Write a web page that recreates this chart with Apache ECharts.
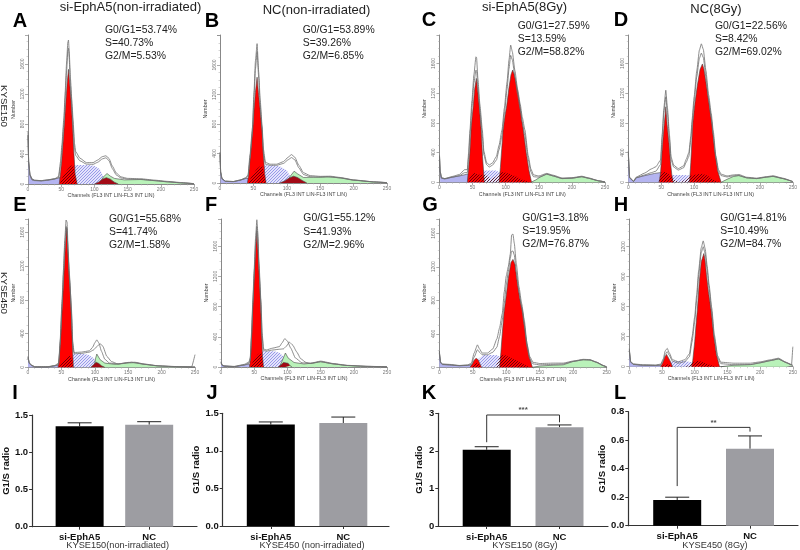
<!DOCTYPE html>
<html><head><meta charset="utf-8">
<style>html,body{margin:0;padding:0;background:#fff}#c{width:800px;height:550px}</style>
<script src="https://cdn.jsdelivr.net/npm/echarts@6/dist/echarts.min.js"></script></head>
<body><div id="c"></div>
<script>
// ---------- Histogram data: [channel, count] ----------
const aBlue=[[0,650],[1,300],[3,130],[6,70],[10,50],[20,45],[30,55],[40,70],[48,85],[52,0]];
const aHatch=[[48,0],[55,130],[62,210],[70,253],[80,255],[92,253],[100,240],[108,200],[114,90],[120,0]];
const aG1=[[47,0],[49,150],[51,330],[54.7,787],[57,1100],[59,1350],[61,1529],[63,1320],[65,1100],[67,787],[69,430],[71,130],[74,0]];
const aG2=[[100,0],[106,25],[112,65],[118,85],[124,65],[130,25],[136,0]];
const aOver=[[48,0],[52,90],[56,150],[60,200],[64,240],[68,253],[71,130],[74,0]];
const aGreen=[[108,0],[113,90],[119,140],[124,105],[130,75],[145,55],[170,60],[190,45],[210,28],[230,15],[250,4]];
const aLine1=[[0,700],[1,300],[3,120],[6,60],[10,50],[20,45],[30,55],[40,70],[46,100],[49,300],[51,520],[54,880],[56,1230],[58,1600],[60,1890],[61,1920],[62,1780],[64,1400],[66,1120],[68,840],[70,540],[72,430],[78,346],[88,285],[98,285],[105,320],[112,365],[117.5,377],[122,340],[127,240],[133,146],[140,95],[150,75],[170,70],[190,52],[210,35],[230,20],[250,5]];
const aLine2=[[0,650],[1,280],[3,110],[6,55],[10,45],[20,40],[30,50],[40,65],[46,85],[49,240],[51,450],[54,810],[56,1130],[58,1480],[60,1780],[61,1810],[62,1680],[64,1310],[66,1040],[68,770],[70,470],[72,380],[78,310],[88,265],[98,262],[105,290],[112,335],[117.5,350],[122,310],[127,205],[133,120],[140,80],[150,65],[170,62],[190,46],[210,30],[230,16],[250,4]];

const bBlue=[[0,400],[1,150],[3,60],[8,25],[20,20],[30,40],[38,60],[42,65],[45,0]];
const bHatch=[[40,0],[50,120],[58,220],[65,240],[80,240],[90,225],[100,170],[107,60],[112,0]];
const bG1=[[41,0],[43,120],[45,330],[49,717],[51,1000],[53,1230],[55.5,1435],[57.5,1230],[60,1000],[63,717],[65,380],[67,120],[69,0]];
const bG2=[[89,0],[96,25],[103,65],[110,93],[116,75],[123,35],[130,0]];
const bOver=[[42,0],[47,80],[51,140],[55,190],[59,220],[63,240],[66,120],[69,0]];
const bGreen=[[100,0],[105,90],[111,160],[116,125],[125,75],[140,78],[160,85],[180,70],[200,40],[230,15],[250,5]];
const bLine1=[[0,420],[1,150],[3,60],[8,25],[20,20],[30,40],[38,70],[42,110],[45,390],[48.5,750],[51,1250],[53,1650],[55.5,1890],[58,1500],[60,1150],[63,780],[65,460],[68,280],[75,255],[85,255],[95,290],[102,350],[107,385],[112,350],[118,240],[125,140],[135,100],[150,90],[165,92],[180,75],[200,42],[230,16],[250,5]];
const bLine2=[[0,380],[1,140],[3,55],[8,22],[20,18],[30,36],[38,62],[42,95],[45,340],[48.5,700],[51,1170],[53,1540],[55.5,1780],[58,1420],[60,1080],[63,720],[65,400],[68,255],[75,240],[85,240],[95,265],[102,315],[107,345],[112,315],[118,205],[125,115],[135,85],[150,78],[165,84],[180,68],[200,38],[230,14],[250,4]];

const cBlue=[[0,350],[1,150],[3,60],[8,50],[20,70],[30,85],[42,110],[50,100],[55,0]];
const cHatch=[[42,0],[50,60],[60,120],[66,160],[85,160],[92,130],[100,80],[110,40],[125,0]];
const cG1=[[42,0],[44,200],[46,430],[48,760],[51,1030],[53,1250],[55.6,1400],[57,1300],[60,1030],[63,705],[65,350],[67.7,0]];
const cG2=[[90,0],[92,200],[94,450],[96,705],[99,900],[101.5,1030],[105,1280],[108,1450],[110.5,1512],[113,1450],[117,1280],[121.6,1030],[124,860],[126.6,705],[131,400],[135,170],[139,0]];
const cOver=[[42,0],[48,100],[53,125],[58,110],[63,100],[68,110],[72,90],[77,40],[80,20],[84,70],[90,120],[96,140],[104,120],[115,80],[125,35],[137,0]];
const cGreen=[[138,0],[145,30],[152,70],[162,110],[172,85],[185,50],[200,55],[215,75],[225,55],[240,20],[250,5]];
const cLine1=[[0,370],[1,150],[3,60],[8,50],[20,80],[30,105],[38,170],[42,170],[44,400],[46,705],[49,1100],[52,1450],[55,1690],[56,1680],[58,1400],[61,1050],[64.7,705],[67,420],[71,270],[75,233],[80,260],[86,350],[90,500],[94.4,705],[98,1000],[102,1350],[105,1650],[107.5,1848],[110,1760],[114,1500],[118,1250],[122,1050],[125,880],[129,705],[134,360],[138,180],[142,100],[150,85],[162,120],[172,95],[185,58],[200,62],[215,82],[225,60],[240,22],[250,5]];
const cLine2=[[0,340],[1,140],[3,55],[8,45],[20,70],[30,90],[38,130],[42,130],[44,340],[46,630],[49,1010],[52,1340],[55,1512],[56,1500],[58,1290],[61,970],[64.7,630],[67,370],[71,240],[75,205],[80,230],[86,300],[90,440],[94.4,630],[98,920],[102,1250],[105,1530],[107.5,1710],[110,1650],[114,1420],[118,1180],[122,980],[125,810],[129,630],[134,310],[138,140],[142,75],[150,70],[162,110],[172,85],[185,50],[200,55],[215,75],[225,55],[240,20],[250,4]];

const dBlue=[[0,400],[2,60],[8,10],[12,60],[25,90],[40,120],[48,130],[55,125],[60,0]];
const dHatch=[[58,0],[66,100],[85,100],[95,90],[100,40],[105,0]];
const dG1=[[47,0],[49,130],[52,509],[54,720],[57,1017],[59,780],[62,509],[64,280],[66,110],[68,0]];
const dG2=[[93,0],[95,270],[98,797],[101,1050],[105,1310],[109,1520],[112.6,1594],[115,1520],[119,1290],[123,1040],[127,797],[131,450],[136,150],[141,0]];
const dOver=[[46,0],[50,130],[54,150],[60,120],[66,70],[72,20],[80,0],[85,30],[92,80],[100,100],[105,110],[112,115],[120,90],[130,30],[140,0]];
const dGreen=[[141,0],[150,40],[160,80],[168,90],[180,60],[195,50],[210,70],[220,80],[235,50],[250,10]];
const dLine1=[[0,420],[2,70],[8,15],[12,70],[25,125],[35,180],[42,210],[49,300],[51.5,650],[54,1000],[57,1240],[59.5,1000],[62.5,640],[65,340],[69,230],[76,185],[84,220],[88,310],[92,400],[95,620],[97,850],[100,1150],[104,1500],[108,1780],[111,1865],[114,1790],[118,1500],[122,1180],[126,930],[129,700],[133,360],[137,170],[141,110],[150,85],[160,100],[168,105],[180,68],[195,56],[210,76],[220,88],[235,55],[250,10]];
const dLine2=[[0,380],[2,60],[8,12],[12,62],[25,100],[35,130],[42,150],[49,240],[51.5,590],[54,930],[57,1150],[59.5,930],[62.5,580],[65,300],[69,205],[76,165],[84,195],[88,270],[92,350],[95,570],[97,790],[100,1080],[104,1420],[108,1670],[111,1740],[114,1680],[118,1420],[122,1120],[126,870],[129,640],[133,320],[137,140],[141,90],[150,72],[160,88],[168,92],[180,60],[195,50],[210,70],[220,80],[235,50],[250,8]];

const eBlue=[[0,120],[2,50],[5,25],[10,5],[30,5],[40,18],[46,30],[50,0]];
const eHatch=[[46,0],[54,60],[60,130],[68,162],[80,162],[90,150],[98,110],[104,60],[108,0]];
const eG1=[[45,0],[47,150],[49,380],[52,827],[54,1150],[56,1450],[58,1654],[59.5,1450],[61,1200],[64,827],[65.5,500],[67,160],[68,0]];
const eG2=[[94,0],[98,30],[102,60],[106,45],[110,18],[115,0]];
const eOver=[[46,0],[50,40],[54,80],[58,120],[62,150],[66,100],[68,0]];
const eGreen=[[99,0],[101,100],[103,157],[108,90],[115,50],[130,35],[145,50],[155,60],[170,40],[190,20],[210,10],[250,5]];
const eLine1=[[0,130],[2,55],[5,28],[10,8],[30,8],[40,22],[46,50],[48,300],[51,800],[53,1150],[55,1500],[57,1745],[58.5,1720],[60,1400],[62,1100],[65,700],[67,300],[69,175],[80,180],[92,195],[97,240],[100,290],[103,325],[106,290],[110,190],[115,95],[122,50],[135,40],[150,58],[160,60],[175,38],[195,18],[225,8],[245,6],[250,150]];
const eLine2=[[0,110],[2,45],[5,22],[10,5],[30,5],[40,18],[46,35],[48,260],[51,750],[53,1090],[55,1430],[57,1670],[58.5,1640],[60,1340],[62,1040],[65,650],[67,270],[69,160],[80,165],[92,180],[98,205],[103,245],[108,280],[112,250],[118,130],[125,68],[135,38],[150,52],[160,55],[175,35],[195,16],[225,6],[245,4],[250,5]];

const fBlue=[[0,60],[2,20],[5,10],[20,5],[35,25],[42,40],[45,0]];
const fHatch=[[43,0],[50,90],[56,170],[62,208],[80,208],[88,190],[94,140],[99,60],[103,0]];
const fG1=[[43,0],[45,200],[48.5,900],[50,1200],[52,1550],[54,1800],[55.5,1580],[57,1300],[59.5,900],[61,480],[62.5,140],[64,0]];
const fG2=[[86,0],[90,25],[94,60],[97,75],[101,50],[104,18],[107,0]];
const fOver=[[44,0],[48,70],[52,130],[56,170],[60,200],[62,150],[64,0]];
const fGreen=[[88,0],[92,80],[97,185],[101,120],[110,60],[125,40],[140,55],[150,70],[170,40],[190,20],[220,8],[250,3]];
const fLine1=[[0,70],[2,25],[5,12],[20,8],[35,35],[42,65],[44,120],[46,450],[48,900],[50,1300],[52,1700],[54,1950],[55.5,1780],[57,1420],[60,900],[62,450],[64,240],[68,225],[78,250],[88,270],[92,320],[96,375],[100,345],[105,250],[112,120],[122,55],[135,50],[150,78],[170,45],[190,22],[220,9],[250,3]];
const fLine2=[[0,55],[2,18],[5,8],[20,5],[35,28],[42,50],[44,90],[46,400],[48,850],[50,1230],[52,1620],[54,1860],[55.5,1700],[57,1350],[60,850],[62,400],[64,220],[68,210],[78,225],[88,235],[94,240],[99,280],[103,330],[108,290],[114,200],[120,110],[128,60],[135,46],[150,70],[170,40],[190,20],[220,8],[250,3]];

const gBlue=[[0,190],[2,60],[5,35],[15,30],[30,20],[42,25],[48,30],[52,0]];
const gHatch=[[46,0],[52,50],[60,110],[66,148],[85,148],[92,120],[100,70],[110,20],[118,0]];
const gG1=[[46,0],[49,35],[52,85],[55,108],[58,90],[60,55],[63,0]];
const gG2=[[90,0],[92,180],[94,400],[96.5,644],[100,860],[103,1060],[107,1250],[110,1288],[113,1230],[116,1040],[120,830],[125,644],[129,380],[134,140],[139,0]];
const gOver=[[46,0],[50,30],[55,55],[60,30],[63,0],[84,0],[88,90],[92,140],[97,150],[105,120],[115,80],[125,40],[135,0]];
const gGreen=[[139,0],[150,15],[170,25],[185,30],[200,70],[215,90],[225,88],[235,60],[245,20],[250,5]];
const gLine1=[[0,190],[2,60],[5,40],[15,35],[30,22],[42,28],[48,50],[52,170],[57,268],[60,220],[64,170],[72,170],[80,220],[86,340],[90,470],[94,640],[97,900],[100,1090],[103,1200],[106,1350],[108,1580],[110,1590],[112,1480],[115,1240],[119,960],[123,760],[127,560],[131,280],[135,130],[140,60],[150,45],[170,50],[185,50],[200,75],[215,95],[225,92],[235,62],[245,22],[250,5]];
const gLine2=[[0,170],[2,50],[5,32],[15,28],[30,18],[42,22],[48,35],[52,120],[57,210],[60,180],[64,150],[72,150],[80,180],[86,240],[90,370],[94,560],[97,760],[100,980],[103,1140],[106,1300],[108,1385],[110,1388],[112,1340],[115,1140],[119,900],[123,710],[127,500],[131,240],[135,100],[140,40],[150,30],[170,35],[185,40],[200,70],[215,90],[225,86],[235,58],[245,18],[250,4]];

const hBlue=[[0,170],[2,50],[6,25],[20,15],[40,12],[48,15],[52,0]];
const hHatch=[[50,0],[58,25],[65,57],[85,57],[95,45],[105,15],[112,0]];
const hG1=[[48,0],[51,40],[54,95],[57,123],[60,105],[63,50],[66,0]];
const hG2=[[95,0],[97,60],[100,250],[102,420],[104,566],[107,850],[110,1050],[114,1132],[116,1060],[118,920],[121,750],[125,566],[129,320],[133,130],[138,0]];
const hOver=[[48,0],[54,20],[60,25],[66,0],[86,0],[95,35],[100,50],[105,60],[115,40],[125,15],[135,0]];
const hGreen=[[140,0],[160,15],[185,20],[200,38],[215,60],[228,77],[240,40],[250,15]];
const hLine1=[[0,180],[2,55],[6,28],[20,20],[40,18],[48,25],[52,80],[55,160],[58,183],[61,140],[66,70],[75,50],[85,70],[92,130],[96,300],[100,500],[103,720],[106,960],[110,1190],[113,1258],[116,1180],[119,1010],[122,820],[126,590],[130,320],[135,110],[140,45],[160,35],[185,35],[200,48],[215,68],[228,85],[240,44],[248,20],[250,200]];
const hLine2=[[0,160],[2,45],[6,22],[20,14],[40,12],[48,18],[52,60],[55,125],[58,150],[61,115],[66,55],[75,35],[85,50],[92,100],[96,250],[100,450],[103,670],[106,910],[110,1140],[113,1200],[116,1130],[119,970],[122,780],[126,550],[130,285],[135,90],[140,30],[160,20],[185,22],[200,40],[215,60],[228,78],[240,40],[248,15],[250,12]];

// ---------- Bar data ----------
const barCats=['si-EphA5','NC'];
const barColors=['#000000','#9d9da2'];
const iVals=[1.35,1.37], iTops=[1.395,1.41];
const jVals=[1.35,1.37], jTops=[1.385,1.45];
const kVals=[2.03,2.63], kTops=[2.11,2.69];
const lVals=[0.18,0.54], lTops=[0.20,0.63];
const kBracket=[[1,2.23],[1,2.955],[2,2.955],[2,2.76]];
const lBracket=[[1,0.278],[1,0.69],[2,0.69],[2,0.66]];

// ---------- Texts ----------
const chanName='Channels (FL3 INT LIN-FL3 INT LIN)';
const titles=['si-EphA5(non-irradiated)','NC(non-irradiated)','si-EphA5(8Gy)','NC(8Gy)'];
const letters=['A','B','C','D','E','F','G','H','I','J','K','L'];
const stats=[['G0/G1=53.74%','S=40.73%','G2/M=5.53%'],['G0/G1=53.89%','S=39.26%','G2/M=6.85%'],['G0/G1=27.59%','S=13.59%','G2/M=58.82%'],['G0/G1=22.56%','S=8.42%','G2/M=69.02%'],
 ['G0/G1=55.68%','S=41.74%','G2/M=1.58%'],['G0/G1=55.12%','S=41.93%','G2/M=2.96%'],['G0/G1=3.18%','S=19.95%','G2/M=76.87%'],['G0/G1=4.81%','S=10.49%','G2/M=84.7%']];
const barCaptions=['KYSE150(non-irradiated)','KYSE450 (non-irradiated)','KYSE150 (8Gy)','KYSE450 (8Gy)'];

// ---------- Layout ----------
const histLayout=[
 {l:28,w:166,t:35,h:149,max:1987,iv:400,top:1600},{l:220,w:167,t:35,h:148,max:2007,iv:400,top:1600},
 {l:439.5,w:165.5,t:35,h:147.3,max:1984,iv:400,top:1600},{l:628.3,w:164.7,t:35,h:147.3,max:1984,iv:400,top:1600},
 {l:28,w:167,t:219,h:148.3,max:1757,iv:400,top:1600},{l:221,w:166,t:219,h:148,max:1960,iv:400,top:1600},
 {l:439.3,w:167.4,t:219,h:148.3,max:1770,iv:400,top:1600},{l:629.3,w:167.4,t:219,h:147.7,max:1477,iv:300,top:1200}];
const barLayout=[
 {l:28,r:197,t:415,b:526.7,c1:76.7,c2:148,max:1.5,iv:0.5,dec:1,gap:18},
 {l:222.7,r:389,t:413.3,b:526,c1:270.8,c2:343.3,max:1.5,iv:0.5,dec:1,gap:15},
 {l:438.3,r:608,t:413.3,b:526,c1:486.7,c2:559.5,max:3,iv:1,dec:0,gap:14},
 {l:628.3,r:798,t:411.7,b:525.7,c1:677.2,c2:750,max:0.8,iv:0.2,dec:1,gap:19}];
const titlePos=[[130.5,7],[316.5,10],[524.5,7],[716,9]];
const letterPos=[[20,21],[212,21],[429,20],[621,20],[20,205],[211,205],[430,205],[621,205],[15,393],[212,393],[429,393],[620,393]];
const statPos=[[105,30],[302.7,30],[517.7,26],[715,26],[109,219],[303.3,218.5],[522.3,217.7],[720.3,217.7]];
const captionPos=[[117.7,545],[312,545],[525,545],[715,545]];

// ---------- Patterns ----------
function hatch(bg,fg,size){
  const c=document.createElement('canvas');c.width=c.height=size;const x=c.getContext('2d');
  if(bg){x.fillStyle=bg;x.fillRect(0,0,size,size);}
  x.strokeStyle=fg;x.lineWidth=0.8;
  x.beginPath();x.moveTo(-1,1);x.lineTo(1,-1);x.moveTo(0,size);x.lineTo(size,0);x.moveTo(size-1,size+1);x.lineTo(size+1,size-1);x.stroke();
  return {image:c,repeat:'repeat'};
}
const blueHatch=hatch('#e4e4fb','#8484e4',3);
const darkHatch=hatch(null,'#4a0008',3);

const panels=[
 {blue:aBlue,s:aHatch,g1:aG1,g2:aG2,over:aOver,green:aGreen,l1:aLine1,l2:aLine2,g2c:'#a30a16'},
 {blue:bBlue,s:bHatch,g1:bG1,g2:bG2,over:bOver,green:bGreen,l1:bLine1,l2:bLine2,g2c:'#a30a16'},
 {blue:cBlue,s:cHatch,g1:cG1,g2:cG2,over:cOver,green:cGreen,l1:cLine1,l2:cLine2,g2c:'#ff0000'},
 {blue:dBlue,s:dHatch,g1:dG1,g2:dG2,over:dOver,green:dGreen,l1:dLine1,l2:dLine2,g2c:'#ff0000'},
 {blue:eBlue,s:eHatch,g1:eG1,g2:eG2,over:eOver,green:eGreen,l1:eLine1,l2:eLine2,g2c:'#a30a16'},
 {blue:fBlue,s:fHatch,g1:fG1,g2:fG2,over:fOver,green:fGreen,l1:fLine1,l2:fLine2,g2c:'#a30a16'},
 {blue:gBlue,s:gHatch,g1:gG1,g2:gG2,over:gOver,green:gGreen,l1:gLine1,l2:gLine2,g2c:'#ff0000'},
 {blue:hBlue,s:hHatch,g1:hG1,g2:hG2,over:hOver,green:hGreen,l1:hLine1,l2:hLine2,g2c:'#ff0000'}];
const barPanels=[
 {v:iVals,e:iTops,yName:'G1/S radio'},{v:jVals,e:jTops,yName:'G1/S radio'},
 {v:kVals,e:kTops,br:kBracket,stars:'***',sy:3.08,yName:'G1/S radio'},
 {v:lVals,e:lTops,br:lBracket,stars:'**',sy:0.72,yName:'G1/S radio'}];

const grid=[],xAxis=[],yAxis=[],series=[];
function area(i,data,color,z,line){
  return {type:'line',xAxisIndex:i,yAxisIndex:i,data,showSymbol:false,silent:true,clip:false,z,
    lineStyle:{width:line?0.6:0,color:'#444'},areaStyle:{color,opacity:1},animation:false};
}
function trace(i,data,z){
  return {type:'line',xAxisIndex:i,yAxisIndex:i,data,showSymbol:false,silent:true,clip:false,z,smooth:0.15,smoothMonotone:'x',
    lineStyle:{width:0.8,color:'#707070'},animation:false};
}
panels.forEach((p,i)=>{
  const L=histLayout[i];
  grid.push({left:L.l,top:L.t,width:L.w,height:L.h,containLabel:false});
  xAxis.push({type:'value',gridIndex:i,min:0,max:250,interval:50,splitLine:{show:false},
    name:chanName,nameLocation:'middle',nameGap:9.5,nameTextStyle:{fontSize:5.3,color:'#444',fontFamily:'Liberation Sans'},
    axisLine:{lineStyle:{color:'#888',width:1}},axisTick:{length:3,lineStyle:{color:'#888',width:0.7}},
    minorTick:{show:true,splitNumber:5,length:1.5,lineStyle:{color:'#aaa',width:0.5}},
    axisLabel:{fontSize:5,color:'#777',margin:3,fontFamily:'Liberation Sans'}});
  yAxis.push({type:'value',gridIndex:i,min:0,max:L.max,interval:L.iv,splitLine:{show:false},
    name:'Number',nameLocation:'middle',nameGap:12,nameRotate:90,nameTextStyle:{fontSize:5.3,color:'#444',fontFamily:'Liberation Sans'},
    axisLine:{show:true,lineStyle:{color:'#888',width:1}},axisTick:{show:true,length:3,lineStyle:{color:'#888',width:0.7}},
    minorTick:{show:true,splitNumber:4,length:1.5,lineStyle:{color:'#aaa',width:0.5}},
    axisLabel:{fontSize:5,color:'#777',rotate:90,margin:3,showMaxLabel:false,fontFamily:'Liberation Sans',formatter:v=>v<=L.top?String(v):''}});
  series.push(area(i,p.blue,'#b4b4f0',2,true));
  series.push(area(i,p.s,blueHatch,3,false));
  series.push(area(i,p.green,'#b9f2b9',4,true));
  series.push(area(i,p.g2,p.g2c,5,true));
  series.push(area(i,p.g1,'#ff0000',5,true));
  series.push(area(i,p.over,darkHatch,6,false));
  series.push(trace(i,p.l1,7));
  series.push(trace(i,p.l2,7));
});
barPanels.forEach((p,k)=>{
  const i=k+8,L=barLayout[k],sp=L.c2-L.c1;
  grid.push({left:L.l,top:L.t,width:L.r-L.l,height:L.b-L.t});
  xAxis.push({type:'value',gridIndex:i,min:1-(L.c1-L.l)/sp,max:2+(L.r-L.c2)/sp,splitLine:{show:false},
    axisLine:{lineStyle:{color:'#333',width:1.2}},
    axisTick:{show:true,length:3,customValues:[1,2],lineStyle:{color:'#333',width:1}},
    axisLabel:{customValues:[1,2],formatter:v=>barCats[Math.round(v)-1],fontSize:9.5,fontWeight:'bold',color:'#111',margin:6,fontFamily:'Liberation Sans'}});
  yAxis.push({type:'value',gridIndex:i,min:0,max:L.max,interval:L.iv,splitLine:{show:false},
    name:p.yName,nameLocation:'middle',nameGap:L.gap,nameRotate:90,
    nameTextStyle:{fontSize:9.6,fontWeight:'bold',color:'#111',fontFamily:'Liberation Sans'},
    axisLine:{show:true,lineStyle:{color:'#333',width:1.2}},axisTick:{show:true,length:3,lineStyle:{color:'#333',width:1}},
    axisLabel:{fontSize:9.5,fontWeight:'bold',color:'#111',margin:4,fontFamily:'Liberation Sans',formatter:v=>v.toFixed(L.dec)}});
  series.push({type:'bar',xAxisIndex:i,yAxisIndex:i,barWidth:48,silent:true,animation:false,
    data:p.v.map((v,j)=>({value:[j+1,v],itemStyle:{color:barColors[j]}}))});
  series.push({type:'custom',xAxisIndex:i,yAxisIndex:i,silent:true,animation:false,z:1,
    data:p.v.map((v,j)=>[j+1,v,p.e[j]]),encode:{x:0,y:[1,2]},
    renderItem:(params,api)=>{
      const a=api.coord([api.value(0),api.value(1)]),b=api.coord([api.value(0),api.value(2)]);
      const st={stroke:'#222',lineWidth:1};
      return {type:'group',children:[
        {type:'line',shape:{x1:a[0],y1:a[1],x2:b[0],y2:b[1]},style:st},
        {type:'line',shape:{x1:b[0]-12,y1:b[1],x2:b[0]+12,y2:b[1]},style:st}]};
    }});
  if(p.br){
    series.push({type:'line',xAxisIndex:i,yAxisIndex:i,data:p.br,showSymbol:false,silent:true,clip:false,animation:false,z:4,
      lineStyle:{color:'#333',width:1}});
    series.push({type:'scatter',xAxisIndex:i,yAxisIndex:i,data:[[1.5,p.sy]],symbolSize:0,clip:false,silent:true,animation:false,z:4,
      label:{show:true,position:'inside',formatter:p.stars,fontSize:8,fontWeight:'bold',color:'#222',fontFamily:'Liberation Sans'}});
  }
});

const ff='"Liberation Sans",Arial,sans-serif';
const txt=(text,x,y,font,fill,align,rotation)=>({type:'text',x,y,rotation:rotation||0,silent:true,z:20,
  style:{text,font:font+' '+ff,fill:fill||'#111',textAlign:align||'left',textVerticalAlign:'middle'}});
const graphic=[];
titles.forEach((t,i)=>graphic.push(txt(t,titlePos[i][0],titlePos[i][1],'13px','#222','center')));
letters.forEach((t,i)=>graphic.push(txt(t,letterPos[i][0],letterPos[i][1],'bold 20px','#000','center')));
stats.forEach((s,i)=>s.forEach((t,j)=>graphic.push(txt(t,statPos[i][0],statPos[i][1]+j*13.3,'10.4px','#222'))));
barCaptions.forEach((t,i)=>graphic.push(txt(t,captionPos[i][0],captionPos[i][1],'9.2px','#333','center')));
graphic.push(txt('KYSE150',4,106,'9.7px','#222','center',-Math.PI/2));
graphic.push(txt('KYSE450',4,293,'9.7px','#222','center',-Math.PI/2));

echarts.init(document.getElementById('c'),null,{renderer:'canvas'}).setOption({
  backgroundColor:'#fff',animation:false,grid,xAxis,yAxis,series,graphic
});
</script></body></html>
